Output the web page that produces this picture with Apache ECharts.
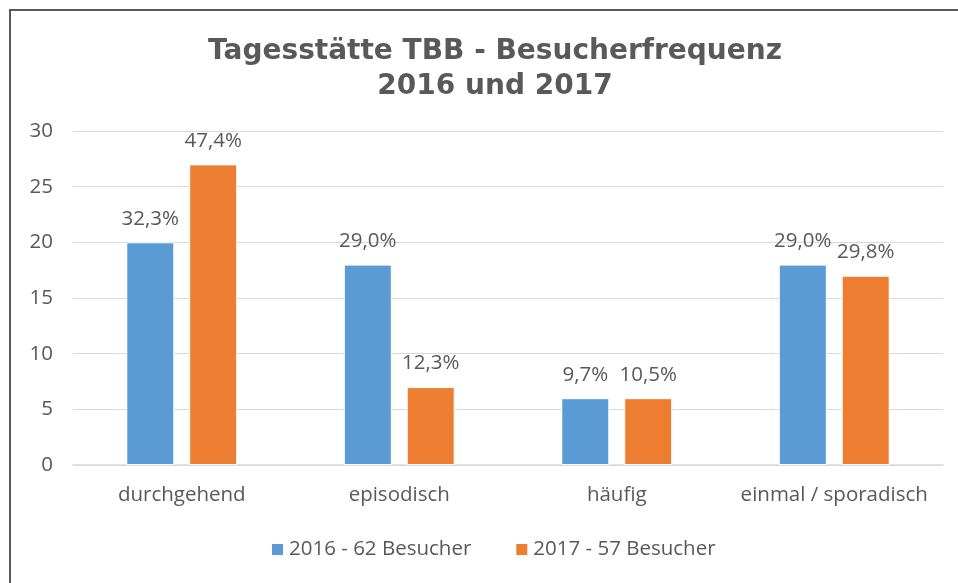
<!DOCTYPE html>
<html>
<head>
<meta charset="utf-8">
<script src="https://cdn.jsdelivr.net/npm/echarts@6/dist/echarts.min.js"></script>
<style>
  html, body { margin: 0; padding: 0; background: #fff; }
  #chart { width: 958px; height: 583px; }
</style>
</head>
<body>
<div id="chart"></div>
<script>
// Daten
const categories = ['durchgehend', 'episodisch', 'häufig', 'einmal / sporadisch']
const seriesNames = ['2016 - 62 Besucher', '2017 - 57 Besucher']
const values2016 = [20, 18, 6, 18]
const values2017 = [27, 7, 6, 17]
const labels2016 = ['32,3%', '29,0%', '9,7%', '29,0%']
const labels2017 = ['47,4%', '12,3%', '10,5%', '29,8%']
const yTicks = [0, 5, 10, 15, 20, 25, 30]

const textColor = '#595959'
const font = '"Open Sans", "Noto Sans", sans-serif'
const fs = 20.5

const chart = echarts.init(document.getElementById('chart'))

function barLabel(texts) {
  return {
    show: true,
    position: 'top',
    distance: 13,
    color: textColor,
    fontFamily: font,
    fontSize: fs,
    formatter: (p) => texts[p.dataIndex],
  }
}

const option = {
  backgroundColor: '#fff',
  animation: false,
  graphic: [
    {
      type: 'rect',
      shape: { x: 10, y: 10, width: 1000, height: 1000 },
      style: { fill: 'none', stroke: '#595959', lineWidth: 2 },
    },
  ],
  title: {
    text: 'Tagesstätte TBB - Besucherfrequenz\n2016 und 2017',
    left: 490,
    top: 29,
    textAlign: 'center',
    textStyle: {
      fontFamily: '"DejaVu Sans", Verdana, sans-serif',
      fontWeight: 'bold',
      fontSize: 28,
      lineHeight: 35,
      color: textColor,
    },
  },
  legend: {
    data: seriesNames,
    bottom: 18,
    left: 265,
    itemWidth: 13,
    itemHeight: 13,
    itemGap: 43,
    icon: 'rect',
    textStyle: { color: textColor, fontFamily: font, fontSize: fs },
  },
  grid: { left: 73, right: 15, top: 131, bottom: 118 },
  xAxis: {
    type: 'category',
    data: categories,
    axisTick: { show: false },
    axisLine: { lineStyle: { color: '#d9d9d9', width: 1.5 } },
    axisLabel: { color: textColor, fontFamily: font, fontSize: fs, margin: 20, interval: 0 },
  },
  yAxis: {
    type: 'value',
    min: yTicks[0],
    max: yTicks[yTicks.length - 1],
    interval: 5,
    axisLine: { show: false },
    axisTick: { show: false },
    splitLine: { lineStyle: { color: '#d9d9d9', width: 1 } },
    axisLabel: { color: textColor, fontFamily: font, fontSize: fs, margin: 20 },
  },
  series: [
    {
      name: seriesNames[0],
      type: 'bar',
      data: values2016,
      barWidth: 48,
      barGap: '31%',
      itemStyle: { color: '#5B9BD5', borderColor: '#fff', borderWidth: 1 },
      label: barLabel(labels2016),
    },
    {
      name: seriesNames[1],
      type: 'bar',
      data: values2017,
      barWidth: 48,
      itemStyle: { color: '#ED7D31', borderColor: '#fff', borderWidth: 1 },
      label: barLabel(labels2017),
    },
  ],
}

chart.setOption(option)
</script>
</body>
</html>
